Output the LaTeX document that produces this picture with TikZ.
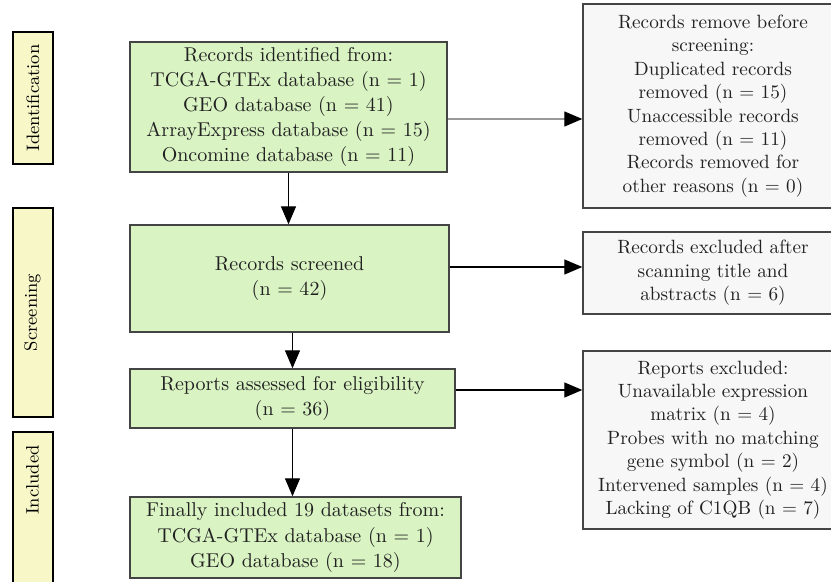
\documentclass[tikz,border=0pt]{standalone}
\usetikzlibrary{arrows.meta}

\definecolor{stagefill}{rgb}{0.972549, 0.968627, 0.784314}
\definecolor{flowfill}{rgb}{0.850980, 0.952941, 0.764706}
\definecolor{exclfill}{rgb}{0.968627, 0.968627, 0.968627}
\definecolor{boxline}{rgb}{0.266667, 0.266667, 0.266667}
\definecolor{thinline}{rgb}{0.600000, 0.600000, 0.600000}

\tikzset{
  stagebox/.style={draw=black, line width=1pt, fill=stagefill, rotate=90,
    inner sep=0pt, minimum height=20pt, font=\fontsize{9}{11}\selectfont},
  flowbox/.style={draw=boxline, line width=0.7pt, fill=flowfill, align=center,
    inner sep=0pt, text=black!87, font=\fontsize{10}{12.6}\selectfont},
  exclbox/.style={draw=boxline, line width=0.7pt, fill=exclfill, align=center,
    inner sep=0pt, text=black!87, font=\fontsize{9.6}{11.7}\selectfont},
  arr/.style={line width=0.6pt, -{Triangle[length=9pt,width=7.5pt]}}
}

\begin{document}
\begin{tikzpicture}[x=0.5pt, y=-0.5pt]
\useasboundingbox (0,0) rectangle (831,582);

% stages
\node[stagebox, minimum width=66pt] (stageid) at (33,98) {Identification};
\node[stagebox, minimum width=104.5pt] (stagescr) at (32.5,312.5) {Screening};
\node[stagebox, minimum width=84pt] (stageinc) at (32.5,516) {\hspace*{36pt}Included};

% main flow
\node[flowbox, minimum width=158.5pt, minimum height=65pt] (ident) at (288.5,107)
  {Records identified from:\\TCGA-GTEx database (n = 1)\\GEO database (n = 41)\\ArrayExpress database (n = 15)\\Oncomine database (n = 11)};
\node[flowbox, minimum width=159.5pt, minimum height=53.5pt] (screened) at (289.5,278.5)
  {Records screened\\(n = 42)};
\node[flowbox, minimum width=162.5pt, minimum height=29.5pt] (assessed) at (292.5,398.5)
  {Reports assessed for eligibility\\(n = 36)};
\node[flowbox, minimum width=165.5pt, minimum height=40.5pt] (included) at (295.5,537.5)
  {Finally included 19 datasets from:\\TCGA-GTEx database (n = 1)\\GEO database (n = 18)};

% side boxes
\node[exclbox, minimum width=130pt, minimum height=102pt] (removed) at (713,106)
  {Records remove before\\screening:\\Duplicated records\\removed (n = 15)\\Unaccessible records\\removed (n = 11)\\Records removed for\\other reasons (n = 0)};
\node[exclbox, minimum width=130pt, minimum height=41pt] (excluded) at (713,273)
  {Records excluded after\\scanning title and\\abstracts (n = 6)};
\node[exclbox, minimum width=130pt, minimum height=89pt] (reportsout) at (713,440)
  {Reports excluded:\\Unavailable expression\\matrix (n = 4)\\Probes with no matching\\gene symbol (n = 2)\\Intervened samples (n = 4)\\Lacking of C1QB (n = 7)};

% arrows down
\draw[arr] (ident.south) -- (ident.south |- screened.north);
\draw[arr] (assessed.north |- screened.south) -- (assessed.north);
\draw[arr] (assessed.south) -- (assessed.south |- included.north);

% arrows right
\draw[line width=0.6pt, draw=thinline, -{Triangle[length=9pt,width=7.5pt,color=black]}]
  ([yshift=-6pt]ident.east) -- ([yshift=-6pt]ident.east -| removed.west);
\draw[arr] ([yshift=5.75pt]screened.east) -- ([yshift=5.75pt]screened.east -| excluded.west);
\draw[arr] ([yshift=4.25pt]assessed.east) -- ([yshift=4.25pt]assessed.east -| reportsout.west);
\end{tikzpicture}
\end{document}
